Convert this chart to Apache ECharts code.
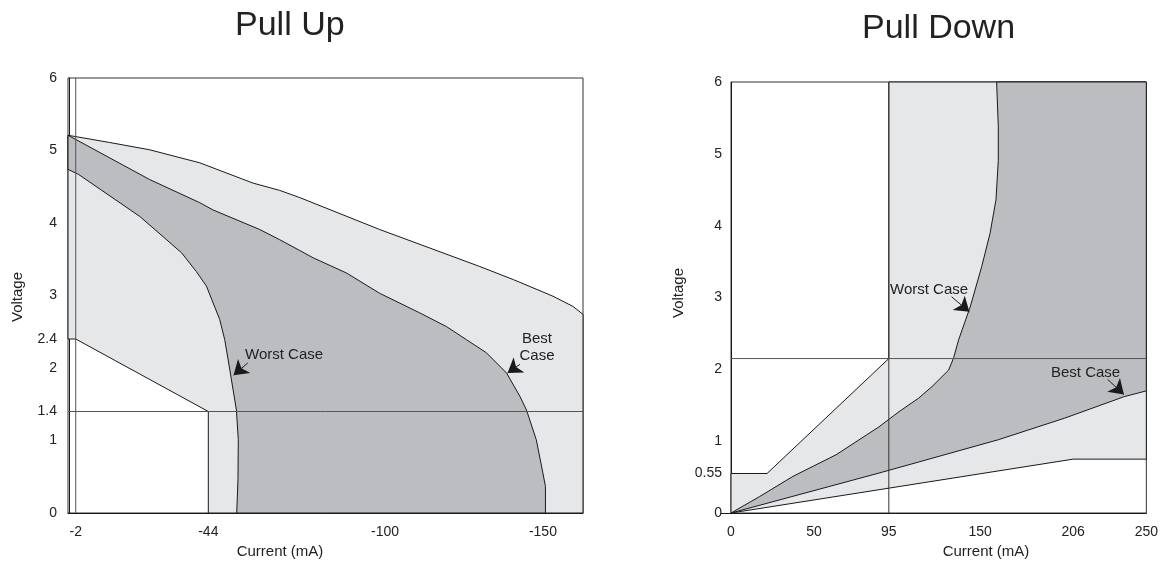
<!DOCTYPE html>
<html>
<head>
<meta charset="utf-8">
<title>Pull Up / Pull Down</title>
<script src="https://cdn.jsdelivr.net/npm/echarts@6.0.0/dist/echarts.min.js"></script>
<style>
  html, body { margin: 0; padding: 0; background: #fff; }
  #main { width: 1161px; height: 562px; }
</style>
</head>
<body>
<div id="main"></div>
<script>
// ---- Pull Up (current in mA, voltage in V) ----
var upXTicks = [-2, -44, -100, -150];
var upYTicks = [0, 1, 1.4, 2, 2.4, 3, 4, 5, 6];
// outer edge of the light band (top curve)
var upOuter = [[0.45, 5.21], [-12.8, 5.11], [-25.4, 5.01], [-41.3, 4.83], [-58.2, 4.55], [-66.6, 4.45],
  [-73.0, 4.35], [-98.3, 3.91], [-130.0, 3.40], [-140.6, 3.22], [-153.2, 2.99], [-159.5, 2.85], [-162.7, 2.74]];
// best case curve
var upBest = [[0.45, 5.21], [-25.4, 4.60], [-41.3, 4.28], [-45.5, 4.18], [-60.3, 3.91], [-66.6, 3.77],
  [-73.0, 3.62], [-77.2, 3.52], [-87.8, 3.31], [-98.3, 3.03], [-111.0, 2.76], [-119.5, 2.57], [-125.8, 2.39],
  [-132.1, 2.21], [-138.5, 1.93], [-142.7, 1.61], [-144.8, 1.42], [-147.9, 1.01], [-150.0, 0.55],
  [-150.8, 0.37], [-150.8, 0]];
// worst case curve
var upWorst = [[0.45, 4.74], [-2.9, 4.67], [-22.3, 4.09], [-35.5, 3.59], [-40.2, 3.33], [-43.4, 3.13],
  [-47.6, 2.67], [-49.2, 2.39], [-50.3, 2.11], [-52.9, 1.42], [-53.5, 1.01], [-53.4, 0.46], [-53.0, 0]];
// limit of the spec (white area below-left)
var upLimit = [[-162.7, 0], [-44, 0], [-44, 1.4], [-2, 2.4], [0.45, 2.4]];
var upVLine = -2;
var upHLine = 1.4;

// ---- Pull Down ----
var pdXTicks = [0, 50, 95, 150, 206, 250];
var pdYTicks = [0, 0.55, 1, 2, 3, 4, 5, 6];
var pdWorst = [[0, 0], [17.3, 0.23], [37.3, 0.51], [63.2, 0.81], [89.1, 1.20], [101.1, 1.41], [113, 1.60],
  [121, 1.76], [131, 1.99], [134, 2.16], [137, 2.41], [144, 2.87], [150.9, 3.43], [155.9, 3.89],
  [159.5, 4.36], [160.9, 4.91], [160.9, 5.37], [159.9, 6]];
var pdBest = [[0, 0], [89.1, 0.556], [113, 0.71], [160.9, 1.02], [200.8, 1.32], [236.7, 1.62], [250, 1.70]];
var pdLimitLow = [[0, 0], [206, 0.75], [250, 0.75]];
var pdLimitHigh = [[0, 0.55], [21.7, 0.55], [95, 2.15], [95, 6]];
var pdVLine = 95;
var pdHLine = 2.15;

var LIGHT = '#e6e7e8';
var DARK = '#bcbdc0';
var INK = '#1a1a1a';
var FONT = 'Liberation Sans, Arial, Helvetica, sans-serif';

/** polygon drawn through the axis scale **/
function polygon(idx, pts, fill) {
  return {
    type: 'custom',
    xAxisIndex: idx,
    yAxisIndex: idx,
    silent: true,
    data: [0],
    renderItem: function (params, api) {
      return {
        type: 'polygon',
        shape: { points: pts.map(function (p) { return api.coord(p); }) },
        style: { fill: fill, stroke: INK, lineWidth: 1 }
      };
    }
  };
}
function refLine(idx, pts, color) {
  return {
    type: 'line',
    xAxisIndex: idx,
    yAxisIndex: idx,
    silent: true,
    symbol: 'none',
    data: pts,
    lineStyle: { color: color, width: 1 }
  };
}
function arrow(idx, from, to) {
  return {
    type: 'line',
    xAxisIndex: idx,
    yAxisIndex: idx,
    silent: true,
    data: [],
    markLine: {
      silent: true,
      symbol: ['none', 'arrow'],
      symbolSize: 14,
      label: { show: false },
      lineStyle: { color: INK, width: 1, type: 'solid' },
      itemStyle: { color: INK },
      data: [[{ coord: from }, { coord: to }]]
    }
  };
}
function note(x, y, text, align) {
  return {
    type: 'text', x: x, y: y, z: 100,
    style: { text: text, font: '15px ' + FONT, fill: '#222', lineHeight: 17,
      align: align, verticalAlign: 'middle', textAlign: align, textVerticalAlign: 'middle' }
  };
}

// light band polygons
var upLightPoly = upOuter.concat(upLimit);
var upDarkPoly = upBest.concat(upWorst.slice().reverse());
var pdLightPoly = [[0, 0]].concat(pdLimitHigh, [[250, 6], [250, 0.75]], pdLimitLow.slice(0, 2).reverse());
var pdDarkPoly = pdWorst.concat([[250, 6]], pdBest.slice().reverse());

function axisText(extra) {
  return Object.assign({ color: '#222', fontSize: 14, fontFamily: FONT }, extra);
}

var chart = echarts.init(document.getElementById('main'));
chart.setOption({
  animation: false,
  backgroundColor: '#fff',
  title: [
    { text: 'Pull Up', left: 235, top: 9, padding: 0,
      textStyle: { fontSize: 34, fontWeight: 'normal', color: '#222', fontFamily: FONT } },
    { text: 'Pull Down', left: 862, top: 12, padding: 0,
      textStyle: { fontSize: 34, fontWeight: 'normal', color: '#222', fontFamily: FONT } }
  ],
  grid: [
    { left: 68, top: 78, width: 515, height: 435, show: true, borderColor: '#333', borderWidth: 1 },
    { left: 731, top: 82, width: 418, height: 431, show: true, borderColor: '#333', borderWidth: 1 }
  ],
  xAxis: [
    {
      gridIndex: 0, type: 'value', inverse: true, min: -162.7, max: 0.45,
      splitLine: { show: false }, axisTick: { show: false },
      axisLine: { lineStyle: { color: INK } },
      axisLabel: axisText({ margin: 12, customValues: upXTicks })
    },
    {
      gridIndex: 1, type: 'value', min: 0, max: 250,
      splitLine: { show: false }, axisTick: { show: false },
      axisLine: { lineStyle: { color: INK } },
      axisLabel: axisText({ margin: 12, customValues: pdXTicks })
    }
  ],
  yAxis: [
    {
      gridIndex: 0, type: 'value', min: 0, max: 6,
      splitLine: { show: false }, axisTick: { show: false },
      axisLine: { lineStyle: { color: INK } },
      axisLabel: axisText({ margin: 11, padding: [5, 0, 0, 0], customValues: upYTicks })
    },
    {
      gridIndex: 1, type: 'value', min: 0, max: 6,
      splitLine: { show: false },
      axisTick: { show: true, length: 10, customValues: [0], lineStyle: { color: INK } },
      axisLine: { lineStyle: { color: INK } },
      axisLabel: axisText({ margin: 9, padding: [4, 0, 0, 0], customValues: pdYTicks })
    }
  ],
  series: [
    polygon(0, upLightPoly, LIGHT),
    polygon(0, upDarkPoly, DARK),
    refLine(0, [[upVLine, 0], [upVLine, 6]], '#555'),
    refLine(0, [[0.45, upHLine], [-162.7, upHLine]], '#555'),
    arrow(0, [-56.5, 2.07], [-52.0, 1.9]),
    arrow(0, [-142.7, 2.05], [-138.8, 1.93]),

    polygon(1, pdLightPoly, LIGHT),
    polygon(1, pdDarkPoly, DARK),
    refLine(1, [[pdVLine, 0], [pdVLine, 6]], '#333'),
    refLine(1, [[0, pdHLine], [250, pdHLine]], '#555'),
    arrow(1, [132.8, 3.01], [143.5, 2.8]),
    arrow(1, [226.7, 1.86], [236.5, 1.65])
  ],
  graphic: [
    // axis names
    { type: 'text', x: 18, y: 297, rotation: Math.PI / 2, z: 100,
      style: { text: 'Voltage', font: '15px ' + FONT, fill: '#222', align: 'center', verticalAlign: 'middle', textAlign: 'center', textVerticalAlign: 'middle' } },
    { type: 'text', x: 280, y: 552, z: 100,
      style: { text: 'Current (mA)', font: '15px ' + FONT, fill: '#222', align: 'center', verticalAlign: 'middle', textAlign: 'center', textVerticalAlign: 'middle' } },
    { type: 'text', x: 679, y: 293, rotation: Math.PI / 2, z: 100,
      style: { text: 'Voltage', font: '15px ' + FONT, fill: '#222', align: 'center', verticalAlign: 'middle', textAlign: 'center', textVerticalAlign: 'middle' } },
    { type: 'text', x: 986, y: 552, z: 100,
      style: { text: 'Current (mA)', font: '15px ' + FONT, fill: '#222', align: 'center', verticalAlign: 'middle', textAlign: 'center', textVerticalAlign: 'middle' } },
    // annotations
    note(245, 355, 'Worst Case', 'left'),
    note(537, 347, 'Best\nCase', 'center'),
    note(890, 290, 'Worst Case', 'left'),
    note(1051, 373, 'Best Case', 'left')
  ]
});
</script>
</body>
</html>
